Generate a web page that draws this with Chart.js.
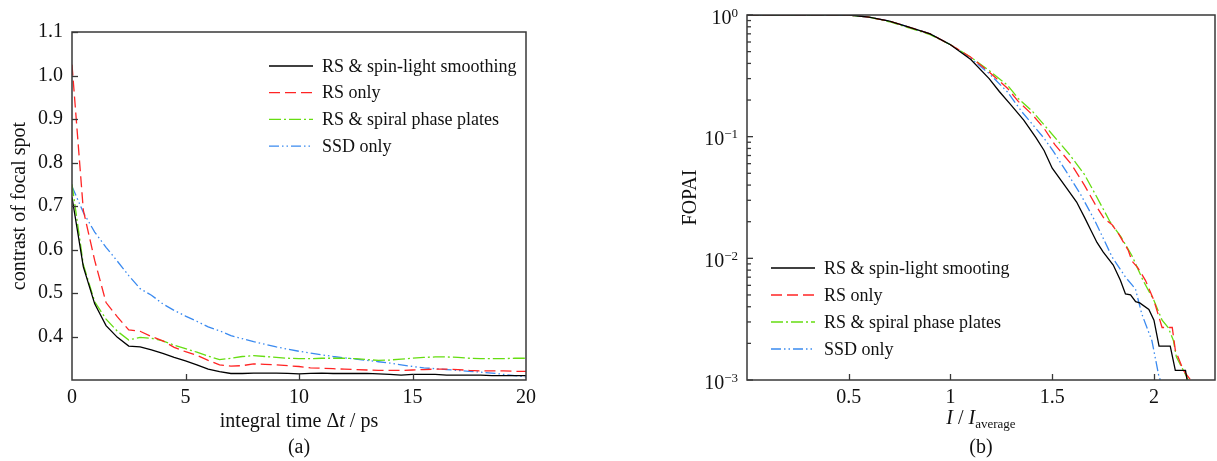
<!DOCTYPE html>
<html>
<head>
<meta charset="utf-8">
<script src="https://cdn.jsdelivr.net/npm/chart.js@4"></script>
<style>
html, body { margin: 0; padding: 0; background: #fff; }
#wrap { position: relative; width: 1217px; height: 461px; }
.box { position: absolute; top: 0; }
</style>
</head>
<body>
<div id="wrap">
  <div class="box" style="left:0px"><canvas id="contrastChart" width="600" height="461"></canvas></div>
  <div class="box" style="left:640px"><canvas id="fopaiChart" width="577" height="461"></canvas></div>
</div>
<script>
// (a) contrast of focal spot vs integral time
const timeSteps = [0,0.5,1,1.5,2,2.5,3,3.5,4,4.5,5,5.5,6,6.5,7,7.5,8,8.5,9,9.5,10,10.5,11,11.5,12,12.5,13,13.5,14,14.5,15,15.5,16,16.5,17,17.5,18,18.5,19,19.5,20];
const contrastSpin = [0.72,0.56,0.475,0.425,0.398,0.378,0.376,0.369,0.361,0.352,0.344,0.335,0.325,0.319,0.315,0.315,0.316,0.316,0.316,0.315,0.314,0.315,0.316,0.315,0.315,0.315,0.315,0.314,0.313,0.311,0.313,0.313,0.313,0.311,0.311,0.311,0.311,0.310,0.310,0.310,0.310];
const contrastRS = [1.025,0.69,0.575,0.478,0.445,0.415,0.412,0.400,0.390,0.375,0.365,0.357,0.345,0.335,0.332,0.333,0.337,0.336,0.335,0.333,0.331,0.328,0.327,0.326,0.325,0.324,0.323,0.322,0.322,0.322,0.323,0.324,0.325,0.325,0.324,0.322,0.321,0.321,0.321,0.320,0.320];
const contrastSpiral = [0.75,0.565,0.48,0.44,0.412,0.392,0.398,0.396,0.39,0.38,0.372,0.364,0.355,0.347,0.35,0.354,0.356,0.354,0.352,0.35,0.349,0.349,0.35,0.35,0.35,0.349,0.347,0.345,0.346,0.348,0.35,0.352,0.353,0.353,0.352,0.35,0.349,0.349,0.349,0.35,0.35];
const contrastSSD = [0.745,0.685,0.64,0.605,0.573,0.54,0.51,0.495,0.475,0.46,0.447,0.435,0.422,0.413,0.402,0.395,0.388,0.382,0.376,0.371,0.366,0.362,0.358,0.354,0.351,0.348,0.345,0.342,0.339,0.335,0.331,0.328,0.326,0.324,0.322,0.32,0.318,0.316,0.313,0.31,0.307];

// (b) FOPAI vs I / I_average (log scale)
const spinX = [0,0.5,0.6,0.7,0.8,0.9,1.0,1.1,1.19,1.24,1.3,1.36,1.42,1.46,1.5,1.57,1.62,1.66,1.69,1.72,1.75,1.8,1.835,1.86,1.885,1.91,1.93,1.975,2.0,2.025,2.08,2.105,2.155,2.165];
const spinY = [1,1,0.96,0.89,0.79,0.70,0.57,0.43,0.30,0.235,0.18,0.137,0.098,0.077,0.055,0.038,0.029,0.0215,0.017,0.0135,0.0113,0.0088,0.0066,0.0051,0.005,0.0044,0.0043,0.0038,0.0031,0.0019,0.0019,0.0012,0.0012,0.00095];
const rsX = [0,0.5,0.6,0.7,0.8,0.9,1.0,1.1,1.19,1.28,1.333,1.405,1.46,1.513,1.595,1.658,1.71,1.757,1.793,1.827,1.874,1.892,1.92,1.958,2.0,2.04,2.09,2.105,2.145,2.19];
const rsY = [1,1,0.96,0.89,0.79,0.70,0.57,0.45,0.34,0.25,0.195,0.15,0.117,0.086,0.059,0.040,0.028,0.021,0.019,0.0158,0.0116,0.0095,0.0084,0.0066,0.0045,0.0027,0.0027,0.00176,0.0012,0.00095];
const spiralX = [0,0.5,0.6,0.7,0.8,0.9,1.0,1.1,1.19,1.28,1.333,1.405,1.46,1.586,1.658,1.71,1.784,1.838,1.892,1.946,2.0,2.04,2.07,2.096,2.11,2.16,2.175];
const spiralY = [1,1,0.96,0.88,0.78,0.69,0.57,0.45,0.35,0.265,0.206,0.16,0.125,0.071,0.049,0.034,0.020,0.0150,0.0105,0.0066,0.0045,0.0031,0.0027,0.0021,0.00155,0.00107,0.00095];
const ssdX = [0,0.5,0.6,0.7,0.8,0.9,1.0,1.1,1.19,1.28,1.351,1.405,1.46,1.505,1.568,1.64,1.71,1.745,1.795,1.86,1.909,1.94,1.99,2.023,2.035];
const ssdY = [1,1,0.96,0.89,0.79,0.70,0.57,0.44,0.33,0.233,0.16,0.125,0.097,0.076,0.052,0.0334,0.0203,0.0153,0.0102,0.007,0.0056,0.0035,0.0021,0.0011,0.00095];

const seriesNames = ["RS & spin-light smooting", "RS only", "RS & spiral phase plates", "SSD only"];
const leftNames = ["RS & spin-light smoothing", "RS only", "RS & spiral phase plates", "SSD only"];
const contrastTicks = [0.4,0.5,0.6,0.7,0.8,0.9,1.0,1.1];
const fopaiDecades = [-3,-2,-1,0];

const serif = '"Liberation Serif", "Times New Roman", serif';
const lineStyles = [
    { color: "#000000", dash: [] },
    { color: "#ff2424", dash: [11, 5] },
    { color: "#66dd11", dash: [12, 3, 2, 3] },
    { color: "#3a8af0", dash: [10, 3, 1.5, 3, 1.5, 3] }
];

function zip(xs, ys) {
    return xs.map((x, i) => ({ x: x, y: ys[i] }));
}
function makeDataset(label, points, i) {
    return {
        label: label,
        data: points,
        borderColor: lineStyles[i].color,
        borderDash: lineStyles[i].dash,
        borderWidth: 1.3,
        pointRadius: 0,
        tension: 0,
        fill: false
    };
}

// box around the plot + inward tick marks
const framePlugin = {
    id: "frame",
    afterDatasetsDraw(chart, args, opts) {
        const { ctx, chartArea: a } = chart;
        ctx.save();
        ctx.setLineDash([]);
        ctx.strokeStyle = "#383838";
        ctx.lineWidth = 1.3;
        const xs = chart.scales.x;
        xs.ticks.forEach(t => {
            if (!opts.xTicks.includes(t.value)) return;
            const px = Math.round(xs.getPixelForValue(t.value)) + 0.5;
            ctx.beginPath(); ctx.moveTo(px, a.bottom); ctx.lineTo(px, a.bottom - 6); ctx.stroke();
        });
        const ys = chart.scales.y;
        if (opts.log) {
            opts.decades.forEach(k => {
                for (let m = 1; m <= 9; m++) {
                    const v = m * Math.pow(10, k);
                    if (v > ys.max * 1.0001) continue;
                    const py = ys.getPixelForValue(v);
                    ctx.beginPath(); ctx.moveTo(a.left, py); ctx.lineTo(a.left + (m === 1 ? 6 : 4), py); ctx.stroke();
                }
            });
        } else {
            opts.yTicks.forEach(v => {
                const py = Math.round(ys.getPixelForValue(v)) + 0.5;
                ctx.beginPath(); ctx.moveTo(a.left, py); ctx.lineTo(a.left + 6, py); ctx.stroke();
            });
        }
        ctx.lineWidth = 1.5;
        ctx.strokeRect(a.left, a.top, a.right - a.left, a.bottom - a.top);
        ctx.restore();
    }
};

// 10^k labels for the log axis
const powerLabels = {
    id: "powerLabels",
    afterDraw(chart, args, opts) {
        if (!opts.decades) return;
        const { ctx, chartArea: a } = chart;
        const ys = chart.scales.y;
        ctx.save();
        ctx.fillStyle = "#111";
        ctx.textBaseline = "alphabetic";
        opts.decades.forEach(k => {
            const py = ys.getPixelForValue(Math.pow(10, k));
            const sup = k === 0 ? "0" : "\u2212" + Math.abs(k);
            ctx.font = "13px " + serif;
            const sw = ctx.measureText(sup).width;
            const right = a.left - 9;
            ctx.textAlign = "right";
            ctx.fillText(sup, right, py + 1.5);
            ctx.font = "20px " + serif;
            ctx.fillText("10", right - sw, py + 8.5);
        });
        ctx.restore();
    }
};

// axis titles with italic / subscript parts
const richTitle = {
    id: "richTitle",
    afterDraw(chart, args, opts) {
        if (!opts.lines) return;
        const { ctx, chartArea: a } = chart;
        const cx = (a.left + a.right) / 2;
        ctx.save();
        ctx.fillStyle = "#111";
        ctx.textBaseline = "middle";
        ctx.textAlign = "left";
        opts.lines.forEach(line => {
            let total = 0;
            line.parts.forEach(p => {
                ctx.font = (p.italic ? "italic " : "") + (p.size || 20) + "px " + serif;
                p.w = ctx.measureText(p.text).width;
                total += p.w;
            });
            let x = cx - total / 2;
            line.parts.forEach(p => {
                ctx.font = (p.italic ? "italic " : "") + (p.size || 20) + "px " + serif;
                ctx.fillText(p.text, x, line.y + (p.dy || 0));
                x += p.w;
            });
        });
        ctx.restore();
    }
};

// legend drawn inside the plot
const insideLegend = {
    id: "insideLegend",
    afterDraw(chart, args, o) {
        if (o.x === undefined) return;
        const ctx = chart.ctx;
        chart.data.datasets.forEach((ds, i) => {
            const y = o.y + i * o.gap;
            ctx.save();
            ctx.strokeStyle = ds.borderColor;
            ctx.lineWidth = 1.3;
            ctx.setLineDash(ds.borderDash);
            ctx.beginPath(); ctx.moveTo(o.x, y); ctx.lineTo(o.x + o.len, y); ctx.stroke();
            ctx.setLineDash([]);
            ctx.fillStyle = "#111";
            ctx.font = "18px " + serif;
            ctx.textBaseline = "middle";
            ctx.fillText(ds.label, o.x + o.len + 9, y + 1);
            ctx.restore();
        });
    }
};

Chart.register(framePlugin, powerLabels, richTitle, insideLegend);

const tickFont = { family: serif, size: 20 };

new Chart("contrastChart", {
    type: "line",
    data: {
        datasets: [
            makeDataset(leftNames[0], zip(timeSteps, contrastSpin), 0),
            makeDataset(leftNames[1], zip(timeSteps, contrastRS), 1),
            makeDataset(leftNames[2], zip(timeSteps, contrastSpiral), 2),
            makeDataset(leftNames[3], zip(timeSteps, contrastSSD), 3)
        ]
    },
    options: {
        responsive: false,
        animation: false,
        layout: { padding: { top: 32, right: 74, left: 0, bottom: 0 } },
        plugins: {
            legend: { display: false },
            tooltip: { enabled: false },
            frame: { xTicks: [5, 10, 15], yTicks: contrastTicks, log: false },
            richTitle: {
                lines: [
                    { y: 422, parts: [{ text: "integral time \u0394" }, { text: "t", italic: true }, { text: " / ps" }] },
                    { y: 448, parts: [{ text: "(a)" }] }
                ]
            },
            insideLegend: { x: 269, y: 66, gap: 26.7, len: 44 }
        },
        scales: {
            x: {
                type: "linear", min: 0, max: 20,
                grid: { display: false, drawTicks: false },
                border: { display: false },
                ticks: { stepSize: 5, padding: 6, color: "#111", font: tickFont, maxRotation: 0 },
                afterFit: s => { s.height = 81; }
            },
            y: {
                min: 0.3, max: 1.1,
                grid: { display: false, drawTicks: false },
                border: { display: false },
                ticks: {
                    stepSize: 0.1, padding: 9, color: "#111", font: tickFont,
                    callback: v => (contrastTicks.some(t => Math.abs(t - v) < 1e-6) ? v.toFixed(1) : "")
                },
                title: { display: true, text: "contrast of focal spot", color: "#111", font: { family: serif, size: 20 }, padding: 8 },
                afterFit: s => { s.width = 72; }
            }
        }
    }
});

new Chart("fopaiChart", {
    type: "line",
    data: {
        datasets: [
            makeDataset(seriesNames[0], zip(spinX, spinY), 0),
            makeDataset(seriesNames[1], zip(rsX, rsY), 1),
            makeDataset(seriesNames[2], zip(spiralX, spiralY), 2),
            makeDataset(seriesNames[3], zip(ssdX, ssdY), 3)
        ]
    },
    options: {
        responsive: false,
        animation: false,
        layout: { padding: { top: 13, right: 2, left: 0, bottom: 0 } },
        plugins: {
            legend: { display: false },
            tooltip: { enabled: false },
            frame: { xTicks: [0.5, 1, 1.5, 2], log: true, decades: fopaiDecades },
            powerLabels: { decades: fopaiDecades },
            richTitle: {
                lines: [
                    { y: 419, parts: [{ text: "I", italic: true }, { text: " / " }, { text: "I", italic: true }, { text: "average", size: 13, dy: 6 }] },
                    { y: 448, parts: [{ text: "(b)" }] }
                ]
            },
            insideLegend: { x: 131, y: 268, gap: 27, len: 44 }
        },
        scales: {
            x: {
                type: "linear", min: 0, max: 2.3,
                grid: { display: false, drawTicks: false },
                border: { display: false },
                ticks: {
                    stepSize: 0.5, includeBounds: false, padding: 6, color: "#111", font: tickFont, maxRotation: 0,
                    callback: v => (v > 0 ? String(v) : "")
                },
                afterFit: s => { s.height = 81; }
            },
            y: {
                type: "logarithmic", min: 0.001, max: 1,
                grid: { display: false, drawTicks: false },
                border: { display: false },
                ticks: { callback: () => "", font: tickFont },
                title: { display: true, text: "FOPAI", color: "#111", font: { family: serif, size: 20 }, padding: 39 },
                afterFit: s => { s.width = 107; }
            }
        }
    }
});
</script>
</body>
</html>
